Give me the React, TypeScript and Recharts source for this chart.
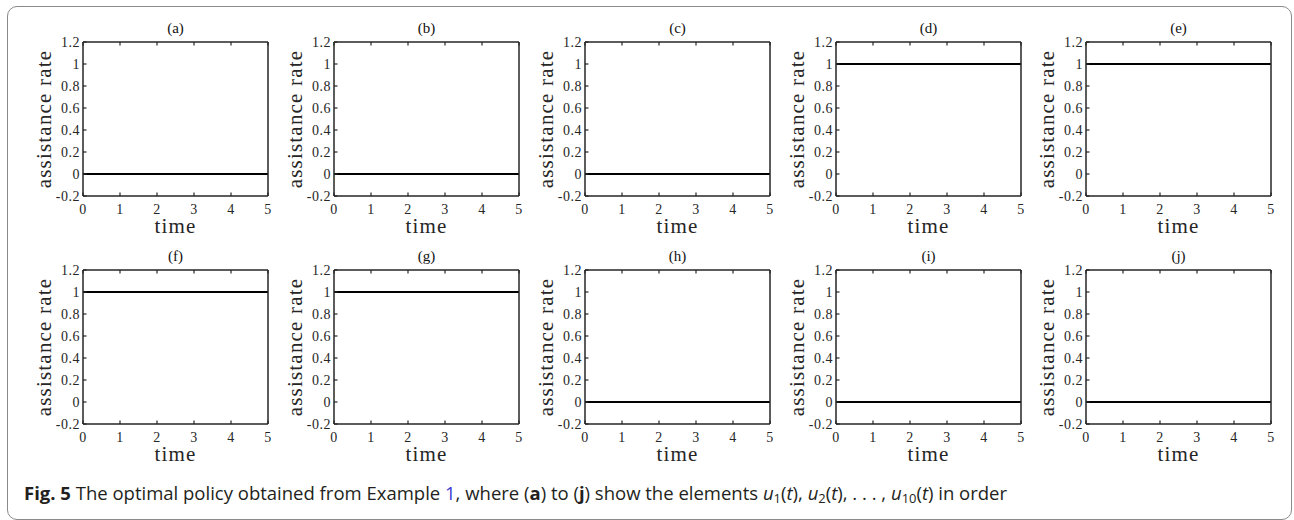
import { Label, Line, LineChart, XAxis, YAxis } from "recharts"

// sampled time grid and the ten control signals u1..u10
const times = [0, 1, 2, 3, 4, 5]
const u1 = [0, 0, 0, 0, 0, 0]
const u2 = [0, 0, 0, 0, 0, 0]
const u3 = [0, 0, 0, 0, 0, 0]
const u4 = [1, 1, 1, 1, 1, 1]
const u5 = [1, 1, 1, 1, 1, 1]
const u6 = [1, 1, 1, 1, 1, 1]
const u7 = [1, 1, 1, 1, 1, 1]
const u8 = [0, 0, 0, 0, 0, 0]
const u9 = [0, 0, 0, 0, 0, 0]
const u10 = [0, 0, 0, 0, 0, 0]
const policies = [u1, u2, u3, u4, u5, u6, u7, u8, u9, u10]
const panelTitles = ["(a)", "(b)", "(c)", "(d)", "(e)", "(f)", "(g)", "(h)", "(i)", "(j)"]

const timeTicks = [0, 1, 2, 3, 4, 5]
const rateTicks = [-0.2, 0, 0.2, 0.4, 0.6, 0.8, 1, 1.2]

const AXIS = "#262626"
const SERIF = "'Liberation Serif', 'Times New Roman', serif"
const TICK_LEN = 3.5
const TICK_FONT = 14

// MATLAB-style boxed axes: ticks point inward on all four sides
function BottomTick({ x, y, payload }: any) {
  return (
    <g>
      <line x1={x} x2={x} y1={y} y2={y - TICK_LEN} stroke={AXIS} strokeWidth={1.2} />
      <text
        x={x}
        y={y + 18}
        textAnchor="middle"
        style={{ fontFamily: SERIF, fontSize: TICK_FONT, fill: AXIS, letterSpacing: 0.5 }}
      >
        {payload.value}
      </text>
    </g>
  )
}

function LeftTick({ x, y, payload }: any) {
  return (
    <g>
      <line x1={x} x2={x + TICK_LEN} y1={y} y2={y} stroke={AXIS} strokeWidth={1.2} />
      <text
        x={x - 3}
        y={y + 4.5}
        textAnchor="end"
        style={{ fontFamily: SERIF, fontSize: TICK_FONT, fill: AXIS, letterSpacing: 0.5 }}
      >
        {String(payload.value)}
      </text>
    </g>
  )
}

function TopTick({ x, y }: any) {
  return <line x1={x} x2={x} y1={y} y2={y + TICK_LEN} stroke={AXIS} strokeWidth={1.2} />
}

function RightTick({ x, y }: any) {
  return <line x1={x} x2={x - TICK_LEN} y1={y} y2={y} stroke={AXIS} strokeWidth={1.2} />
}

function Panel({ title, values, left, top }: { title: string; values: number[]; left: number; top: number }) {
  const data = times.map((t, i) => ({ t, u: values[i] }))
  const axisLine = { stroke: AXIS, strokeWidth: 1.5 }
  const labelStyle = { fontFamily: SERIF, fontSize: 21, fill: AXIS, letterSpacing: 1.2 }
  return (
    <div style={{ position: "absolute", left, top }}>
      <LineChart width={270} height={240} data={data} margin={{ top: 29, right: 14, bottom: 0, left: 0 }}>
        <XAxis
          xAxisId="b"
          dataKey="t"
          type="number"
          domain={[0, 5]}
          ticks={timeTicks}
          interval={0}
          height={56}
          tickSize={0}
          tickMargin={0}
          tickLine={false}
          axisLine={axisLine}
          tick={<BottomTick />}
        >
          <Label value="time" position="insideBottom" offset={19} style={labelStyle} />
        </XAxis>
        <XAxis
          xAxisId="t"
          orientation="top"
          dataKey="t"
          type="number"
          domain={[0, 5]}
          ticks={timeTicks}
          interval={0}
          height={1}
          tickSize={0}
          tickMargin={0}
          tickLine={false}
          axisLine={axisLine}
          tick={<TopTick />}
        >
          <Label
            value={title}
            position="top"
            offset={8}
            style={{ fontFamily: SERIF, fontSize: 15, fill: "#111" }}
          />
        </XAxis>
        <YAxis
          yAxisId="l"
          type="number"
          domain={[-0.2, 1.2]}
          ticks={rateTicks}
          interval={0}
          width={70}
          tickSize={0}
          tickMargin={0}
          tickLine={false}
          axisLine={axisLine}
          tick={<LeftTick />}
        >
          <Label
            value="assistance rate"
            angle={-90}
            position="insideLeft"
            offset={31}
            style={{ ...labelStyle, textAnchor: "middle" }}
          />
        </YAxis>
        <YAxis
          yAxisId="r"
          orientation="right"
          type="number"
          domain={[-0.2, 1.2]}
          ticks={rateTicks}
          interval={0}
          width={1}
          tickSize={0}
          tickMargin={0}
          tickLine={false}
          axisLine={axisLine}
          tick={<RightTick />}
        />
        <Line
          xAxisId="b"
          yAxisId="l"
          type="linear"
          dataKey="u"
          stroke="#000"
          strokeWidth={2}
          dot={false}
          isAnimationActive={false}
        />
      </LineChart>
    </div>
  )
}

const colLefts = [13, 264, 515, 766, 1016]
const rowTops = [12, 240]

function Sub({ children }: { children: string }) {
  return <sub style={{ fontSize: "0.7em", verticalAlign: "-0.25em", fontStyle: "normal" }}>{children}</sub>
}

function U({ n }: { n: string }) {
  return (
    <span>
      <i>u</i>
      <Sub>{n}</Sub>(<i>t</i>)
    </span>
  )
}

export default function App() {
  return (
    <div
      style={{
        position: "absolute",
        left: 0,
        top: 0,
        width: 1294,
        height: 520,
        background: "#fff",
        overflow: "hidden",
      }}
    >
      <div
        style={{
          position: "absolute",
          left: 7,
          top: 6,
          width: 1285,
          height: 514,
          border: "1px solid #8a8a8a",
          borderRadius: 10,
          boxSizing: "border-box",
        }}
      />
      {policies.map((values, i) => (
        <Panel
          key={panelTitles[i]}
          title={panelTitles[i]}
          values={values}
          left={colLefts[i % 5]}
          top={rowTops[Math.floor(i / 5)]}
        />
      ))}
      <div
        style={{
          position: "absolute",
          left: 24,
          top: 481,
          fontFamily: "'Open Sans', sans-serif",
          fontSize: 18.5,
          color: "#231f20",
          whiteSpace: "nowrap",
          lineHeight: "24px",
        }}
      >
        <b>Fig. 5</b> The optimal policy obtained from Example <span style={{ color: "#3a3ad6" }}>1</span>, where (
        <b>a</b>) to (<b>j</b>) show the elements <U n="1" />, <U n="2" />, . . . , <U n="10" /> in order
      </div>
    </div>
  )
}
